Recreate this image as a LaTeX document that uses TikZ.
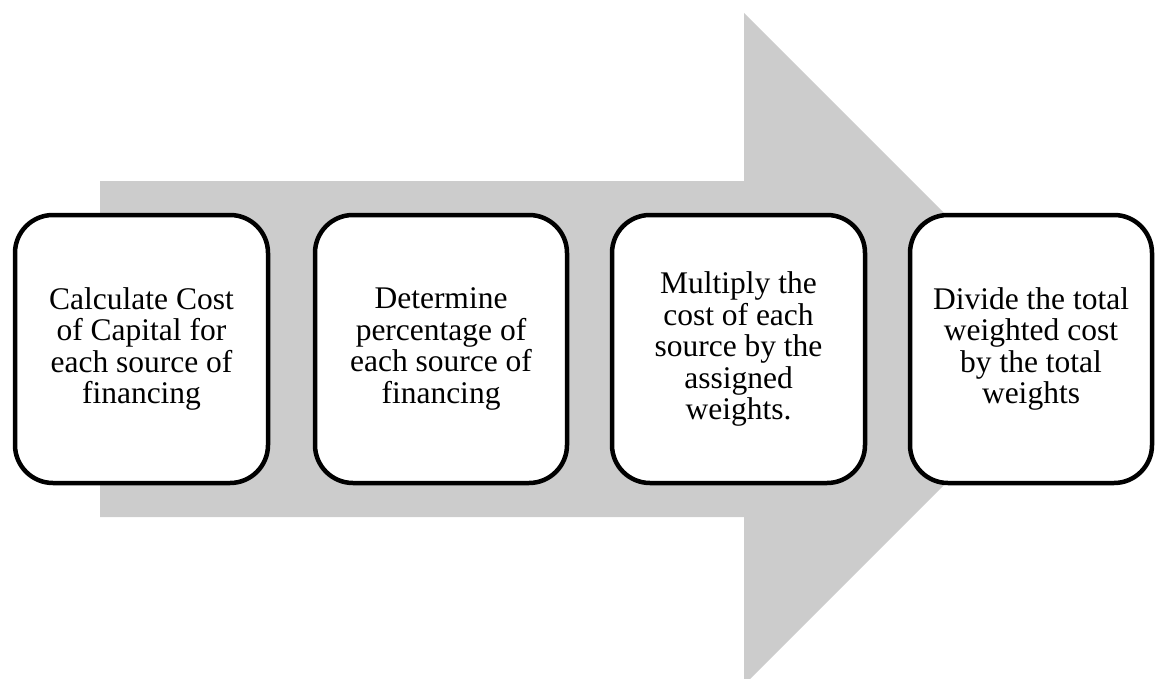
\documentclass[tikz,border=0pt]{standalone}
\usepackage{fontspec}
\setmainfont{Liberation Serif}
\definecolor{arrowgray}{RGB}{204,204,204}
\begin{document}
\begin{tikzpicture}[x=1pt,y=-1pt,
  stepbox/.style={draw=black,fill=white,line width=4.5pt,rounded corners=38pt,
    minimum height=268pt,inner sep=0pt,align=center,
    font=\fontsize{31.5}{31.5}\selectfont}]
\useasboundingbox (0,0) rectangle (1155,679);
\fill[arrowgray] (100,181) -- (744,181) -- (744,13) -- (1080,349) -- (744,685) -- (744,517) -- (100,517) -- cycle;
\node[stepbox,minimum width=253pt] (b1) at (141.5,349) {Calculate Cost\\of Capital for\\each source of\\financing};
\node[stepbox,minimum width=252pt] (b2) at (441,349) {Determine\\percentage of\\each source of\\financing};
\node[stepbox,minimum width=253pt] (b3) at (738.5,349) {Multiply the\\cost of each\\source by the\\assigned\\weights.};
\node[stepbox,minimum width=242pt] (b4) at (1031,349) {Divide the total\\weighted cost\\by the total\\weights};
\end{tikzpicture}
\end{document}
